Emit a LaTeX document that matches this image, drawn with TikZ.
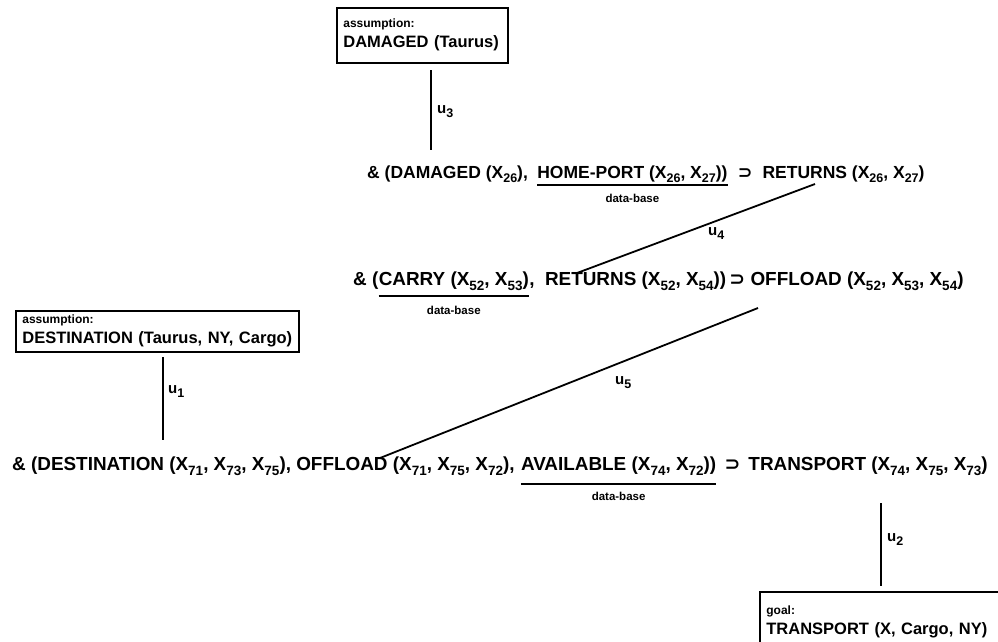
\documentclass[tikz,border=0pt]{standalone}
\usepackage{fontspec}
\setmainfont{Liberation Sans}
\newfontfamily\symfont{DejaVu Sans}
\usetikzlibrary{calc}
\newcommand\subx[1]{\raisebox{-0.5ex}{\fontsize{12.5}{12.5}\selectfont #1}}
\newcommand\subw[1]{\raisebox{-0.5ex}{\fontsize{13.5}{13.5}\selectfont #1}}
\newcommand\supsym{{\symfont\bfseries\char"2283}}
\tikzset{
  formula/.style={font=\bfseries\fontsize{17.5}{20}\selectfont, inner sep=0pt, anchor=base west},
  formulaw/.style={font=\bfseries\fontsize{18.9}{21}\selectfont, inner sep=0pt, anchor=base west},
  dbase/.style={font=\bfseries\fontsize{11.5}{12}\selectfont, inner sep=0pt, anchor=base},
  box/.style={draw, line width=1.7pt, anchor=north west, inner xsep=6pt, inner ysep=3pt, align=left,
              font=\bfseries\fontsize{16.5}{20}\selectfont},
  conn/.style={line width=1.8pt},
  uline/.style={line width=1.5pt},
  lab/.style={font=\bfseries\fontsize{15}{16}\selectfont, inner sep=0pt, anchor=west},
}
\begin{document}
\begin{tikzpicture}[x=1pt,y=-1pt]
\useasboundingbox (0,0) rectangle (998,641);

% boxes
\node[box, minimum width=171pt, minimum height=55pt, text width=158pt] (b1) at (336,7)
  {{\fontsize{12}{16}\selectfont assumption:}\\DAMAGED (Taurus)};
\node[box, minimum width=283pt, minimum height=41pt, text width=270pt, inner ysep=1pt] (b2) at (15,310)
  {{\fontsize{12}{13}\selectfont assumption:}\\DESTINATION (Taurus, NY, Cargo)};
\node[box, minimum width=245pt, minimum height=60pt, text width=232pt] (b3) at (759,591)
  {{\fontsize{12}{16}\selectfont goal:}\\TRANSPORT (X, Cargo, NY)};

% formula 1
\node[formula] (l1a) at (367,178) {\& (DAMAGED (X\subx{26}),\kern9pt};
\node[formula] (l1b) at (l1a.base east) {HOME-PORT (X\subx{26}, X\subx{27}))};
\node[formula] (l1c) at (l1b.base east) {\kern10pt\supsym\kern10pt RETURNS (X\subx{26}, X\subx{27})};
\draw[uline] ([yshift=-7pt]l1b.base west) -- ([yshift=-7pt]l1b.base east);
\node[dbase] (d1) at ([yshift=-24pt]l1b.base) {data-base};

% formula 2
\node[formulaw] (l2a) at (353,285) {\& (};
\node[formulaw] (l2b) at (l2a.base east) {CARRY (X\subw{52}, X\subw{53})};
\node[formulaw] (l2c) at (l2b.base east) {,\ \ RETURNS (X\subw{52}, X\subw{54}))\,\supsym\ OFFLOAD (X\subw{52}, X\subw{53}, X\subw{54})};
\draw[uline] ([yshift=-11pt]l2b.base west) -- ([yshift=-11pt]l2b.base east);
\node[dbase] (d2) at ([yshift=-29pt]l2b.base) {data-base};

% formula 3
\node[formulaw] (l3a) at (12,470) {\& (DESTINATION (X\subw{71}, X\subw{73}, X\subw{75}), OFFLOAD (X\subw{71}, X\subw{75}, X\subw{72}),\kern6pt};
\node[formulaw] (l3b) at (l3a.base east) {AVAILABLE (X\subw{74}, X\subw{72}))};
\node[formulaw] (l3c) at (l3b.base east) {\kern8pt\supsym\kern8pt TRANSPORT (X\subw{74}, X\subw{75}, X\subw{73})};
\draw[uline] ([yshift=-14pt]l3b.base west) -- ([yshift=-14pt]l3b.base east);
\node[dbase] (d3) at ([yshift=-30pt]l3b.base) {data-base};

% connector ends
\coordinate (u3a) at (431,70);
\coordinate (u3b) at (431,150);
\coordinate (u4a) at (815,184);
\coordinate (u4b) at (577,273);
\coordinate (u5a) at (758,308);
\coordinate (u5b) at (380,458);
\coordinate (u1a) at (163,357);
\coordinate (u1b) at (163,440);
\coordinate (u2a) at (881,503);
\coordinate (u2b) at (881,586);

\draw[conn] (u3a) -- (u3b);
\draw[conn] (u4a) -- (u4b);
\draw[conn] (u5a) -- (u5b);
\draw[conn] (u1a) -- (u1b);
\draw[conn] (u2a) -- (u2b);

\node[lab] (t3) at (437,112) {u\subx{3}};
\node[lab] (t4) at (708,234) {u\subx{4}};
\node[lab] (t5) at (615,383) {u\subx{5}};
\node[lab] (t1) at (168,392) {u\subx{1}};
\node[lab] (t2) at (887,540) {u\subx{2}};
\end{tikzpicture}
\end{document}
